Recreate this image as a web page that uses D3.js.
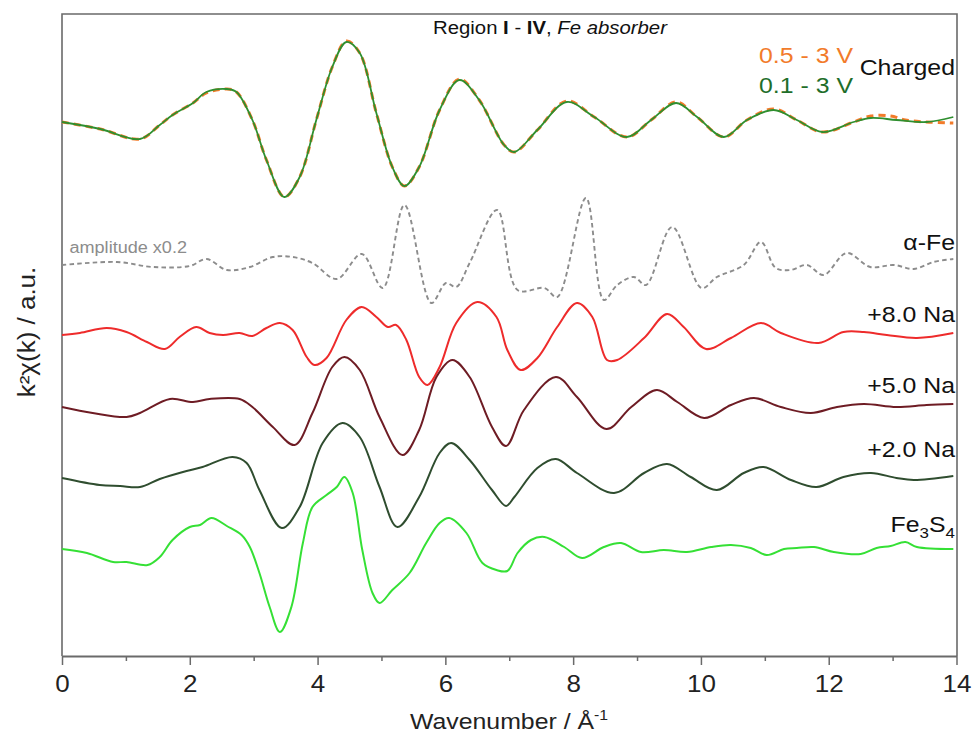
<!DOCTYPE html>
<html>
<head>
<meta charset="utf-8">
<script src="https://cdn.jsdelivr.net/npm/d3@7"></script>
<style>
  body { margin: 0; background: #fff; }
  svg { display: block; }
  text { font-family: "Liberation Sans", Arial, Helvetica, sans-serif; }
</style>
</head>
<body>
<svg id="chart" width="972" height="737"></svg>
<script>
// Axis ticks (wavenumber, Å^-1)
const xTicks = [0, 2, 4, 6, 8, 10, 12, 14];
const xMinorTicks = [1, 3, 5, 7, 9, 11, 13];

// k^2 chi(k) curves, [k, value] pairs (a.u., relative to each trace's own baseline)
const charged01 = [[0,-0.1],[0.6,-0.8],[1.22,-1.8],[1.53,-0.4],[1.73,0.6],[2.05,1.8],[2.26,2.9],[2.58,3.2],[2.73,2.9],[2.98,0.1],[3.2,-3.9],[3.48,-7.6],[3.72,-5.6],[3.98,0.1],[4.23,5.4],[4.45,7.9],[4.66,6.8],[4.92,0.8],[5.17,-4.6],[5.36,-6.5],[5.59,-4.6],[5.91,1.1],[6.22,4.1],[6.53,2.1],[6.92,-2.4],[7.08,-3.1],[7.44,-0.9],[7.9,1.9],[8.33,0.4],[8.84,-1.6],[9.22,0.1],[9.61,1.8],[9.94,0.4],[10.36,-1.6],[10.72,0.1],[11.14,1.1],[11.5,0.1],[11.9,-1.1],[12.39,-0.1],[12.66,0.3],[13.06,0.1],[13.53,-0.1],[13.95,0.4]];
const charged05 = [[0,-0.1],[0.6,-0.8],[1.22,-1.8],[1.53,-0.4],[1.73,0.6],[2.05,1.8],[2.26,2.8],[2.58,3.2],[2.73,2.9],[2.98,0.1],[3.2,-3.9],[3.48,-7.6],[3.72,-5.6],[3.98,0.1],[4.23,5.4],[4.45,8.0],[4.66,6.8],[4.92,0.8],[5.17,-4.6],[5.36,-6.5],[5.59,-4.6],[5.91,1.1],[6.22,4.2],[6.53,2.1],[6.92,-2.4],[7.08,-3.1],[7.44,-0.9],[7.9,2.0],[8.33,0.4],[8.84,-1.6],[9.22,0.1],[9.61,1.9],[9.94,0.4],[10.36,-1.6],[10.72,0.1],[11.14,1.2],[11.5,0.1],[11.9,-1.1],[12.39,-0.1],[12.66,0.5],[12.97,0.5],[13.2,0.1],[13.53,-0.1],[13.95,-0.2]];
const alphaFe = [[0,-0.1],[0.86,0.2],[1.42,-0.3],[2.0,-0.2],[2.26,0.5],[2.58,-0.6],[2.94,-0.3],[3.3,0.7],[3.61,0.7],[3.92,0.1],[4.3,-1.5],[4.69,1.0],[5.02,-2.4],[5.36,5.9],[5.78,-3.9],[6.01,-1.9],[6.17,-2.3],[6.38,0.1],[6.81,5.4],[7.13,-2.6],[7.55,-2.4],[7.75,-3.3],[8.2,6.6],[8.48,-3.6],[8.69,-2.1],[8.95,-1.3],[9.14,-2.1],[9.55,3.7],[10.01,-2.4],[10.25,-1.3],[10.67,-0.1],[10.94,2.2],[11.17,-0.4],[11.4,-0.6],[11.66,-0.1],[11.92,-1.1],[12.28,1.1],[12.65,-0.3],[13.02,-0.1],[13.33,-0.5],[13.64,0.2],[13.95,0.5]];
const na80 = [[0,0.1],[0.28,0.3],[0.7,0.8],[1.01,0.4],[1.33,-0.6],[1.61,-1.3],[1.84,-0.1],[2.1,0.9],[2.31,0.3],[2.52,0.1],[2.78,0.3],[2.98,0.0],[3.2,0.8],[3.41,1.3],[3.61,0.6],[3.83,-2.1],[3.95,-2.9],[4.14,-2.2],[4.45,1.6],[4.69,2.9],[4.92,1.9],[5.1,0.9],[5.23,1.1],[5.39,-0.4],[5.59,-4.1],[5.72,-4.9],[5.91,-3.1],[6.17,1.3],[6.5,3.4],[6.8,1.9],[6.97,-1.4],[7.18,-3.4],[7.44,-2.2],[7.75,0.9],[8.06,3.3],[8.3,1.9],[8.53,-2.4],[8.69,-2.4],[9.11,-0.2],[9.47,2.2],[9.73,0.9],[10.08,-1.3],[10.47,-0.2],[10.94,1.3],[11.25,0.3],[11.84,-0.7],[12.23,0.4],[12.55,0.4],[12.91,0.1],[13.38,-0.2],[13.95,0.3]];
const na50 = [[0,0.0],[0.48,-0.6],[1.01,-1.0],[1.22,-0.6],[1.69,0.8],[2.05,0.5],[2.31,0.8],[2.78,0.8],[2.98,0.0],[3.3,-2.0],[3.64,-3.8],[3.92,-0.6],[4.23,4.0],[4.42,5.0],[4.66,3.7],[4.97,-1.0],[5.33,-4.8],[5.59,-2.3],[5.86,3.0],[6.11,4.7],[6.38,3.0],[6.73,-2.0],[6.95,-3.9],[7.23,-0.3],[7.73,3.0],[8.06,1.0],[8.52,-2.2],[8.91,0.0],[9.31,1.7],[9.63,0.5],[10.05,-1.1],[10.47,0.2],[10.83,0.9],[11.25,0.0],[11.72,-0.6],[12.13,0.0],[12.55,0.3],[13.06,0.0],[13.53,0.2],[13.95,0.3]];
const na20 = [[0,0.1],[0.59,-0.6],[0.91,-0.7],[1.22,-0.8],[1.53,0.0],[1.95,0.8],[2.2,1.2],[2.67,2.2],[2.89,1.6],[3.09,-1.1],[3.44,-4.9],[3.72,-2.8],[4.08,3.6],[4.39,5.6],[4.66,4.2],[4.97,-0.8],[5.25,-4.8],[5.59,-1.8],[5.91,2.6],[6.09,3.6],[6.38,1.9],[6.73,-1.1],[6.95,-2.7],[7.08,-1.8],[7.44,1.1],[7.73,2.0],[8.06,0.6],[8.64,-1.4],[9.11,0.6],[9.47,1.5],[9.84,0.2],[10.25,-1.1],[10.67,0.6],[10.98,1.2],[11.41,-0.1],[11.81,-0.8],[12.23,0.2],[12.66,0.6],[13.06,0.1],[13.33,-0.1],[13.95,0.3]];
const fe3s4 = [[0,0.0],[0.39,-0.4],[0.8,-1.3],[1.01,-1.3],[1.34,-1.6],[1.53,-0.8],[1.73,0.9],[2.0,2.2],[2.16,2.4],[2.34,3.1],[2.58,2.3],[2.81,1.4],[2.94,0.2],[3.09,-2.4],[3.25,-5.8],[3.41,-8.3],[3.59,-5.8],[3.77,0.6],[3.92,4.2],[4.14,5.4],[4.3,6.2],[4.42,7.2],[4.55,5.6],[4.7,-0.1],[4.86,-4.4],[4.97,-5.4],[5.17,-4.1],[5.44,-2.4],[5.7,0.6],[5.91,2.6],[6.06,3.1],[6.33,1.6],[6.58,-1.4],[6.8,-2.1],[6.97,-2.2],[7.13,-0.4],[7.34,0.9],[7.55,1.2],[7.86,0.2],[8.14,-0.9],[8.48,0.2],[8.75,0.6],[9.06,-0.3],[9.42,-0.1],[9.78,-0.3],[10.16,0.2],[10.47,0.4],[10.78,0.1],[11.03,-0.6],[11.3,0.0],[11.5,0.1],[11.77,0.2],[12.08,-0.3],[12.5,-0.5],[12.75,0.1],[12.97,0.3],[13.2,0.7],[13.38,0.2],[13.95,0.0]];

// Vertical stacking offsets of each trace (a.u.)
const offsets = { charged: 53.5, alphaFe: 39.2, na80: 32.0, na50: 24.9, na20: 17.7, fe3s4: 10.7 };

const svg = d3.select("#chart");
const x = d3.scaleLinear().domain([0, 14]).range([62, 956.5]);
const y = d3.scaleLinear().domain([0, 64.2]).range([656, 14]);
const SX = 1.13; // horizontal text stretch

const lineFor = off => d3.line()
  .x(d => x(d[0]))
  .y(d => y(d[1] + off))
  .curve(d3.curveCatmullRom.alpha(0.5));

// frame: left, top and right edges
svg.append("path")
  .attr("d", `M${x(0)},${y(0)}V${y(64.2)}H${x(14) + 0.5}V${y(0)}`)
  .attr("fill", "none").attr("stroke", "#6a6a6a").attr("stroke-width", 1.6);

// bottom axis
const gx = svg.append("g").attr("transform", `translate(0,${y(0)})`);
gx.call(d3.axisBottom(x).tickValues(xMinorTicks).tickSize(5).tickSizeOuter(0).tickFormat(""));
gx.call(g => g.select(".domain").remove());
const gx2 = svg.append("g").attr("transform", `translate(0,${y(0)})`);
gx2.call(d3.axisBottom(x).tickValues(xTicks).tickSize(9).tickSizeOuter(0).tickPadding(11).tickFormat(d3.format("d")));
svg.selectAll(".tick line").attr("stroke", "#6a6a6a").attr("stroke-width", 1.5);
gx2.select(".domain").attr("stroke", "#6a6a6a").attr("stroke-width", 2);
gx2.selectAll(".tick text")
  .attr("font-size", 23).attr("fill", "#222")
  .attr("font-family", "'Liberation Sans', Arial, sans-serif")
  .attr("transform", `scale(${SX},1)`);

// text helper: parts = [{t, w, s, dy, fs}]
function label(xp, yp, anchor, size, fill, parts, rotate) {
  const t = svg.append("text")
    .attr("transform", `translate(${xp},${yp})${rotate ? " rotate(-90)" : ""} scale(${SX},1)`)
    .attr("text-anchor", anchor).attr("font-size", size).attr("fill", fill);
  parts.forEach(p => {
    const ts = t.append("tspan").text(p.t);
    if (p.w) ts.attr("font-weight", p.w);
    if (p.s) ts.attr("font-style", p.s);
    if (p.dy) ts.attr("dy", p.dy);
    if (p.fs) ts.attr("font-size", p.fs);
  });
  return t;
}

// traces
const traces = [
  { data: alphaFe, off: offsets.alphaFe, color: "#8c8c8c", width: 1.9, dash: "4.5,3.2" },
  { data: na80, off: offsets.na80, color: "#ee2b2b", width: 2 },
  { data: na50, off: offsets.na50, color: "#6e1c24", width: 2 },
  { data: na20, off: offsets.na20, color: "#2f4d2f", width: 2 },
  { data: fe3s4, off: offsets.fe3s4, color: "#35e035", width: 2 },
  { data: charged05, off: offsets.charged, color: "#f27b2a", width: 3, dash: "7,5" },
  { data: charged01, off: offsets.charged, color: "#2f8f2f", width: 1.8 }
];
traces.forEach(s => {
  svg.append("path")
    .datum(s.data)
    .attr("d", lineFor(s.off))
    .attr("fill", "none")
    .attr("stroke", s.color)
    .attr("stroke-width", s.width)
    .attr("stroke-dasharray", s.dash || null)
    .attr("stroke-linejoin", "round");
});

// title
label(550, 34, "middle", 18, "#111", [
  { t: "Region " }, { t: "I", w: "bold" }, { t: " - " }, { t: "IV", w: "bold" }, { t: ", " },
  { t: "Fe absorber", s: "italic" }
]);

// legend of the charged traces
label(853, 63, "end", 22, "#f27b2a", [{ t: "0.5 - 3 V" }]);
label(853, 93, "end", 22, "#1f6e2a", [{ t: "0.1 - 3 V" }]);
label(955, 75, "end", 22, "#111", [{ t: "Charged" }]);

// trace labels
label(955, 250, "end", 22, "#111", [{ t: "α-Fe" }]);
label(187, 253, "end", 16, "#8c8c8c", [{ t: "amplitude x0.2" }]);
label(955, 322, "end", 22, "#111", [{ t: "+8.0 Na" }]);
label(955, 393, "end", 22, "#111", [{ t: "+5.0 Na" }]);
label(955, 457, "end", 22, "#111", [{ t: "+2.0 Na" }]);
label(955, 532, "end", 22, "#111", [
  { t: "Fe" }, { t: "3", fs: 15, dy: 6 }, { t: "S", dy: -6 }, { t: "4", fs: 15, dy: 6 }
]);

// axis titles
label(509, 729, "middle", 22, "#222", [
  { t: "Wavenumber / Å" }, { t: "-1", fs: 14, dy: -9 }
]);
label(35, 332, "middle", 23, "#222", [{ t: "k²χ(k) / a.u." }], true);
</script>
</body>
</html>
